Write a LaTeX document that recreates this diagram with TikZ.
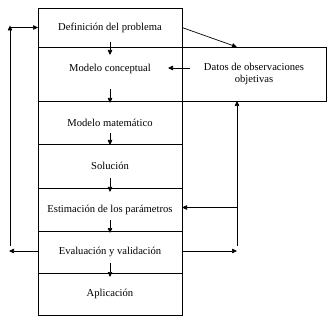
\documentclass[tikz,border=0pt]{standalone}
\usepackage{fontspec}
\setmainfont{Liberation Serif}
\usetikzlibrary{arrows.meta,positioning}
\tikzset{
  row/.style={draw, rectangle, minimum width=144pt, inner sep=0pt, outer sep=0pt, align=center, font=\fontsize{10.6}{12.6}\selectfont, line width=0.7pt},
  arr/.style={-{Triangle[length=5pt,width=4.5pt]}, line width=0.7pt},
}

\begin{document}
\begin{tikzpicture}
\useasboundingbox (0,0) rectangle (334pt,324pt);

\node[row, minimum height=39pt] (def) at (110pt,296.5pt) {Definición del problema};
\node[row, minimum height=54pt, text depth=13pt, below=0pt of def] (concep) {Modelo conceptual};
\node[row, minimum height=43pt, below=0pt of concep] (mat) {Modelo matemático};
\node[row, minimum height=44pt, below=0pt of mat] (sol) {Solución};
\node[row, minimum height=43pt, below=0pt of sol] (est) {Estimación de los parámetros};
\node[row, minimum height=42pt, below=0pt of est] (eval) {Evaluación y validación};
\node[row, minimum height=42pt, below=0pt of eval] (apl) {Aplicación};

\node[row, minimum height=54pt, right=0pt of concep] (datos) {Datos de observaciones\\objetivas};

% flechas hacia abajo
\foreach \a/\t/\b in {def/5/8, concep/12/2, mat/11/1, sol/10/4, est/11/2, eval/10/4}
  \draw[arr] ([yshift=\t pt]\a.south) -- ([yshift=-\b pt]\a.south);

\draw[arr] (def.east) -- ([xshift=-17pt]datos.north);
\draw[arr] ([xshift=8pt,yshift=6pt]datos.west) -- ([xshift=-14pt,yshift=6pt]concep.east);

% lazo izquierdo
\coordinate (lt) at ([xshift=-28pt]def.west);
\coordinate (lm) at ([xshift=-28pt,yshift=6pt]eval.west);
\coordinate (lb) at ([xshift=-29pt,yshift=1pt]eval.west);
\draw[arr] ([yshift=1pt]eval.west) -- (lb);
\draw[arr] (lm) -- ([yshift=2pt]lt);
\draw[arr] (lt) -- (def.west);

% lazo derecho
\coordinate (rb) at ([xshift=55pt,yshift=1pt]eval.east);
\draw[arr] ([yshift=1pt]eval.east) -- (rb);
\draw[arr] ([yshift=5pt]rb) -- ([xshift=-17pt]datos.south);
\draw[arr] ([yshift=2pt]rb |- est.east) -- ([yshift=2pt]est.east);

\end{tikzpicture}
\end{document}
